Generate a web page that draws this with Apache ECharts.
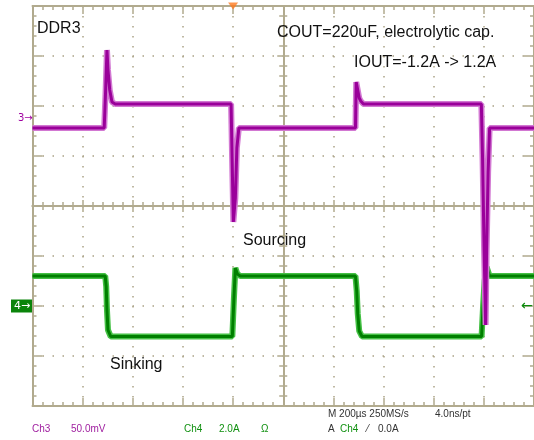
<!DOCTYPE html>
<html><head><meta charset="utf-8">
<script src="https://cdn.jsdelivr.net/npm/echarts@6/dist/echarts.min.js"></script>
<style>html,body{margin:0;padding:0;background:#fff}#c{width:534px;height:440px}</style>
</head><body><div id="c"></div>
<script>
// Ch3: output voltage ripple (mV), time in µs relative to trigger
const ch3Time = [-800, -514, -508, -503, -499, -492, -483, -470, -8, -4, 1, 9, 15, 23, 488, 491, 497, 503, 509, 520, 990, 995, 1001, 1007, 1011, 1017, 1023, 1200];
const ch3mV   = [-10, -10, 30, 68, 48, 28, 16, 14, 14, -40, -104, -80, -30, -10, -10, 36, 34, 20, 17, 14, 14, -42, -132, -207, -132, -55, -10, -10];
// Ch4: load current (A)
const ch4Time = [-800, -510, -506, -503, -499, -488, -3, 3, 9, 17, 29, 488, 493, 497, 503, 514, 991, 997, 1003, 1011, 1023, 1200];
const ch4Amp  = [1.2, 1.2, 0.77, -0.16, -0.96, -1.22, -1.22, 0.24, 1.52, 1.28, 1.2, 1.2, 0.6, -0.3, -1.0, -1.22, -1.22, 0, 1.0, 1.56, 1.2, 1.2];
const triggerTime = 0;

const ch3Data = ch3Time.map((t, i) => [t, ch3mV[i]]);
const ch4Data = ch4Time.map((t, i) => [t, ch4Amp[i]]);

const AX = '#b1aa8e';
const DOT = '#aaa386';
const G = {left: 32.5, top: 6, width: 503, height: 400};

function frameAxis(extra) {
  return Object.assign({
    type: 'value',
    axisLine: {show: true, onZero: false, lineStyle: {color: AX, width: 2}},
    axisTick: {show: true, inside: true, length: 8, lineStyle: {color: AX, width: 1.5}},
    minorTick: {show: true, splitNumber: 5, length: 4, lineStyle: {color: AX, width: 1.5}},
    axisLabel: {show: false},
    splitLine: {show: false}
  }, extra);
}
const dotted = {show: true, lineStyle: {color: DOT, width: 1.5, type: [1.5, 8.5]}};

const chart = echarts.init(document.getElementById('c'));
chart.setOption({
  animation: false,
  backgroundColor: '#ffffff',
  grid: [Object.assign({}, G), Object.assign({}, G), Object.assign({}, G)],
  xAxis: [
    frameAxis({gridIndex: 0, min: -800, max: 1200, interval: 200, position: 'bottom', splitLine: dotted}),
    frameAxis({gridIndex: 0, min: -800, max: 1200, interval: 200, position: 'top'}),
    frameAxis({gridIndex: 1, min: -5, max: 5, interval: 1, position: 'bottom',
      axisLine: {show: true, onZero: true, lineStyle: {color: AX, width: 2}},
      axisTick: {show: true, inside: false, length: 6, lineStyle: {color: AX, width: 1.5}}}),
    frameAxis({gridIndex: 2, min: -5, max: 5, interval: 1, position: 'bottom',
      axisLine: {show: true, onZero: true, lineStyle: {color: AX, width: 2}},
      axisTick: {show: true, inside: true, length: 6, lineStyle: {color: AX, width: 1.5}}})
  ],
  yAxis: [
    frameAxis({gridIndex: 0, min: 0, max: 8, interval: 1, position: 'left', splitLine: dotted,
      axisTick: {show: true, inside: true, length: 10, lineStyle: {color: AX, width: 1.5}}}),
    frameAxis({gridIndex: 0, min: 0, max: 8, interval: 1, position: 'right',
      axisTick: {show: true, inside: true, length: 10, lineStyle: {color: AX, width: 1.5}}}),
    {gridIndex: 0, type: 'value', min: -288, max: 112, show: false},
    {gridIndex: 0, type: 'value', min: -4, max: 12, show: false},
    frameAxis({gridIndex: 1, min: -4, max: 4, interval: 1, position: 'left',
      axisLine: {show: true, onZero: true, lineStyle: {color: AX, width: 2}},
      axisTick: {show: true, inside: false, length: 6, lineStyle: {color: AX, width: 1.5}}}),
    frameAxis({gridIndex: 2, min: -4, max: 4, interval: 1, position: 'left',
      axisLine: {show: true, onZero: true, lineStyle: {color: AX, width: 2}},
      axisTick: {show: true, inside: true, length: 6, lineStyle: {color: AX, width: 1.5}}})
  ],
  series: [
    {type: 'line', xAxisIndex: 0, yAxisIndex: 3, data: ch4Data, symbol: 'none', z: 2,
      lineStyle: {color: '#45c045', width: 6}},
    {type: 'line', xAxisIndex: 0, yAxisIndex: 3, data: ch4Data, symbol: 'none', z: 3,
      lineStyle: {color: '#007f00', width: 3}},
    {type: 'line', xAxisIndex: 0, yAxisIndex: 2, data: ch3Data, symbol: 'none', z: 4,
      lineStyle: {color: '#d278d2', width: 6}},
    {type: 'line', xAxisIndex: 0, yAxisIndex: 2, data: ch3Data, symbol: 'none', z: 5,
      lineStyle: {color: '#9a009a', width: 3}},
    {type: 'scatter', xAxisIndex: 0, yAxisIndex: 0, data: [[triggerTime, 8]], symbol: 'triangle',
      symbolRotate: 180, symbolSize: [10, 7], symbolOffset: [0, 0], itemStyle: {color: '#ff7a1f'}, z: 10}
  ]
});

const y3 = chart.convertToPixel({xAxisIndex: 0, yAxisIndex: 2}, [0, 0])[1];
const y4 = chart.convertToPixel({xAxisIndex: 0, yAxisIndex: 3}, [0, 0])[1];
const F = 'Liberation Sans, Arial, sans-serif';
function txt(x, y, s, size, color, family) {
  return {type: 'text', left: x, top: y, z: 100, silent: true,
    style: {text: s, x: 0, y: 0, fill: color, font: size + 'px ' + (family || F), textVerticalAlign: 'middle'}};
}
chart.setOption({
  graphic: [
    {type: 'text', x: 37, y: 29, z: 100, style: {text: 'DDR3', fill: '#111', font: '16px ' + F, textVerticalAlign: 'middle'}},
    {type: 'text', x: 277, y: 33, z: 100, style: {text: 'COUT=220uF, electrolytic cap.', fill: '#111', font: '16px ' + F, textVerticalAlign: 'middle'}},
    {type: 'text', x: 354, y: 63, z: 100, style: {text: 'IOUT=-1.2A -> 1.2A', fill: '#111', font: '16px ' + F, textVerticalAlign: 'middle'}},
    {type: 'text', x: 243, y: 241, z: 100, style: {text: 'Sourcing', fill: '#111', font: '16px ' + F, textVerticalAlign: 'middle'}},
    {type: 'text', x: 110, y: 365, z: 100, style: {text: 'Sinking', fill: '#111', font: '16px ' + F, textVerticalAlign: 'middle'}},
    // channel markers
    {type: 'text', x: 18, y: y3, z: 100, style: {text: '3→', fill: '#a000a0', font: '10px DejaVu Sans', textVerticalAlign: 'middle'}},
    {type: 'rect', shape: {x: 11, y: y4 - 6.5, width: 21, height: 13}, style: {fill: '#0a840a'}, z: 99},
    {type: 'text', x: 14, y: y4, z: 100, style: {text: '4→', fill: '#ffffff', font: '11px DejaVu Sans', textVerticalAlign: 'middle'}},
    {type: 'text', x: 521, y: y4, z: 100, style: {text: '←', fill: '#0a8a0a', font: '14px DejaVu Sans', textVerticalAlign: 'middle'}},
    // status line
    {type: 'text', x: 32, y: 429, z: 100, style: {text: 'Ch3', fill: '#a020a0', font: '10px ' + F, textVerticalAlign: 'middle'}},
    {type: 'text', x: 71, y: 429, z: 100, style: {text: '50.0mV', fill: '#a020a0', font: '10px ' + F, textVerticalAlign: 'middle'}},
    {type: 'text', x: 184, y: 429, z: 100, style: {text: 'Ch4', fill: '#109010', font: '10px ' + F, textVerticalAlign: 'middle'}},
    {type: 'text', x: 219, y: 429, z: 100, style: {text: '2.0A', fill: '#109010', font: '10px ' + F, textVerticalAlign: 'middle'}},
    {type: 'text', x: 261, y: 429, z: 100, style: {text: 'Ω', fill: '#109010', font: '10px ' + F, textVerticalAlign: 'middle'}},
    {type: 'text', x: 328, y: 414, z: 100, style: {text: 'M 200µs 250MS/s', fill: '#333', font: '10px ' + F, textVerticalAlign: 'middle'}},
    {type: 'text', x: 435, y: 414, z: 100, style: {text: '4.0ns/pt', fill: '#333', font: '10px ' + F, textVerticalAlign: 'middle'}},
    {type: 'text', x: 328, y: 429, z: 100, style: {text: 'A', fill: '#333', font: '10px ' + F, textVerticalAlign: 'middle'}},
    {type: 'text', x: 340, y: 429, z: 100, style: {text: 'Ch4', fill: '#109010', font: '10px ' + F, textVerticalAlign: 'middle'}},
    {type: 'text', x: 367, y: 429, z: 100, style: {text: '⁄', fill: '#333', font: '10px ' + F, textVerticalAlign: 'middle'}},
    {type: 'text', x: 378, y: 429, z: 100, style: {text: '0.0A', fill: '#333', font: '10px ' + F, textVerticalAlign: 'middle'}}
  ]
});
</script></body></html>
